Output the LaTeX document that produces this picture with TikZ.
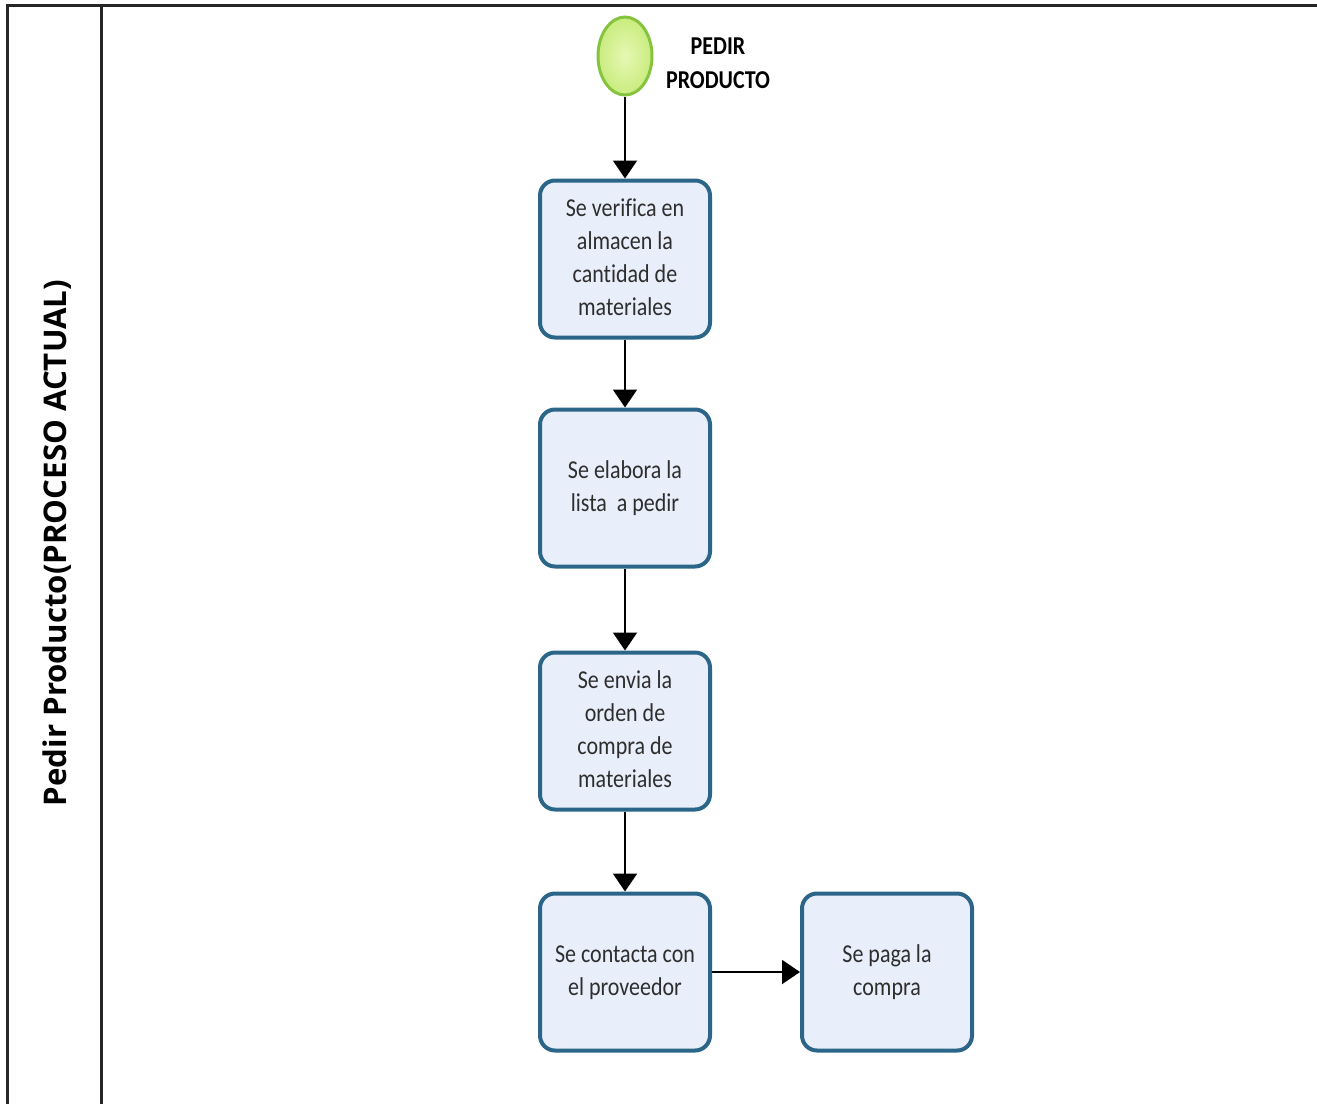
\documentclass[tikz,border=0pt]{standalone}
\usepackage{fontspec}
\usepackage{graphicx}
\setmainfont{Carlito}[Ligatures=NoCommon]
\newfontfamily\lanefont{Open Sans}
\usetikzlibrary{arrows.meta,shapes.geometric}
\definecolor{boxfill}{HTML}{E9EEFB}
\definecolor{boxline}{HTML}{2B6688}
\definecolor{startin}{HTML}{E6F8B4}
\definecolor{startout}{HTML}{C9EC7E}
\definecolor{startline}{HTML}{86C440}
\definecolor{boxtext}{HTML}{2E2E2E}
% narrow, tall lettering used inside the shapes
\newcommand\talltext[1]{\scalebox{1}[1.17]{\begin{tabular}{@{}c@{}}#1\end{tabular}}}
\begin{document}
\begin{tikzpicture}[x=0.5pt,y=-0.5pt,
  task/.style={draw=boxline, line width=2pt, fill=boxfill, rounded corners=7.5pt,
    minimum width=85pt, minimum height=78.5pt, align=center, text=boxtext,
    font=\fontsize{11}{14.1}\selectfont, inner sep=0pt},
  flow/.style={draw=black, line width=1pt, -{Triangle[length=9pt,width=12pt]}},
  lane/.style={line width=1.5pt, draw=black!85}]
\useasboundingbox (0,0) rectangle (1317,1104);

% pool and lane frame
\draw[lane] (7,1104) -- (7,5) -- (1317,5);
\draw[lane] (101,5) -- (101,1104);
\node (lanelabel) [rotate=90, font=\lanefont\bfseries\fontsize{15.6}{18}\selectfont] at (57,543)
  {Pedir Producto(PROCESO ACTUAL)};

% start event
\node (start) [ellipse, draw=startline, line width=1.5pt, inner color=startin, outer color=startout,
  minimum width=27pt, minimum height=39pt, inner sep=0pt] at (625,56) {};
\node (startlabel) [font=\bfseries\fontsize{11}{14.5}\selectfont] at (718,65)
  {\talltext{PEDIR\\PRODUCTO}};

% tasks
\node (t1) [task] at (625,259) {\talltext{Se verifica en\\almacen la\\cantidad de\\materiales}};
\node (t2) [task] at (625,488) {\talltext{Se elabora la\\lista\ \ a pedir}};
\node (t3) [task] at (625,731) {\talltext{Se envia la\\orden de\\compra de\\materiales}};
\node (t4) [task] at (625,972) {\talltext{Se contacta con\\el proveedor}};
\node (t5) [task] at (887,972) {\talltext{Se paga la\\compra}};

% sequence flows
\draw[flow] (start) -- (t1);
\draw[flow] (t1) -- (t2);
\draw[flow] (t2) -- (t3);
\draw[flow] (t3) -- (t4);
\draw[flow] (t4) -- (t5);
\end{tikzpicture}
\end{document}
